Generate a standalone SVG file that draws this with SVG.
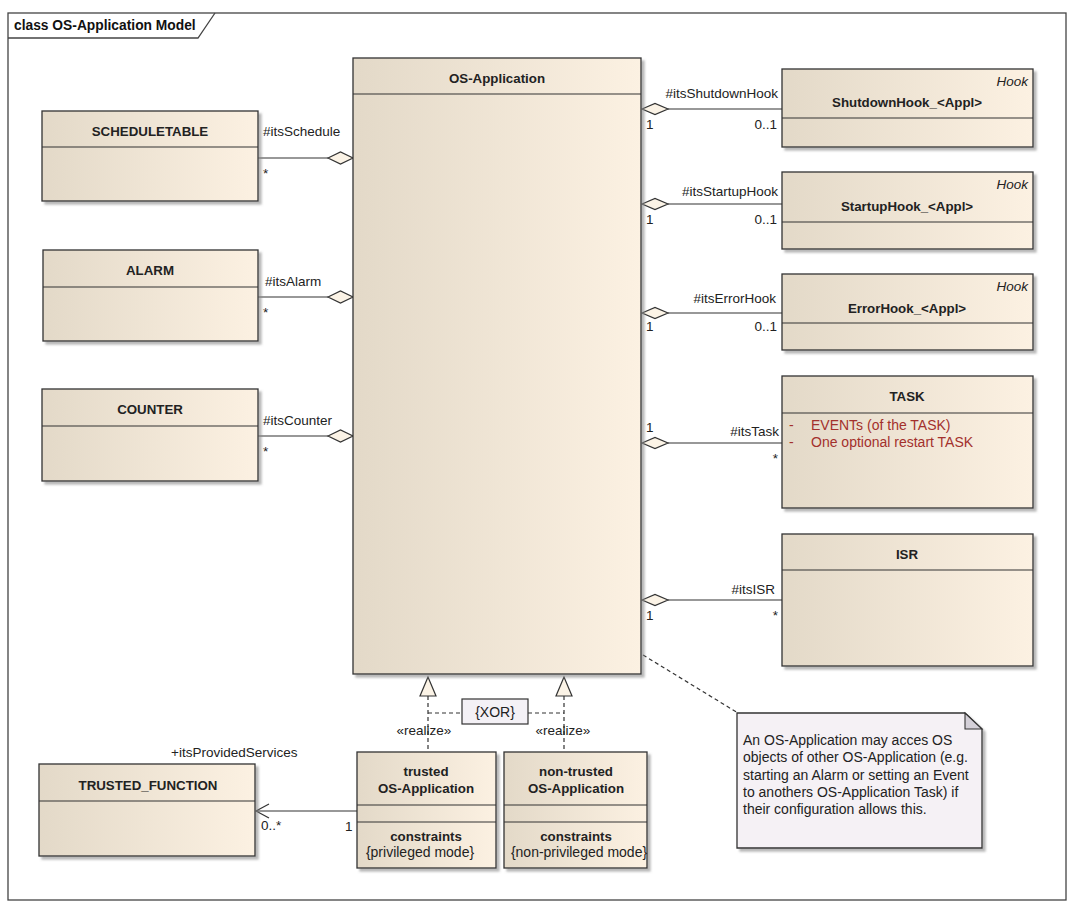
<svg xmlns="http://www.w3.org/2000/svg" width="1080" height="913" viewBox="0 0 1080 913">
<defs>
<linearGradient id="g" x1="0" y1="0" x2="1" y2="0">
<stop offset="0" stop-color="#E3D9C8"/>
<stop offset="1" stop-color="#FCF1E2"/>
</linearGradient>
<filter id="sh" x="-5%" y="-5%" width="115%" height="115%">
<feDropShadow dx="3" dy="3" stdDeviation="1.2" flood-color="#888" flood-opacity="0.6"/>
</filter>
<style>
.box{fill:url(#g);stroke:#333;stroke-width:1.3;filter:url(#sh)}
.dv{stroke:#333;stroke-width:1.2}
.t{font-family:"Liberation Sans",Arial,sans-serif;font-size:13.3px;font-weight:bold;fill:#222;text-anchor:middle}
.r{font-family:"Liberation Sans",Arial,sans-serif;font-size:14px;fill:#222}
.l{font-family:"Liberation Sans",Arial,sans-serif;font-size:13.5px;fill:#222}
.i{font-family:"Liberation Sans",Arial,sans-serif;font-size:13.5px;font-style:italic;fill:#222;text-anchor:end}
.red{fill:#A3302C}
.m{text-anchor:middle}
.e{text-anchor:end}
.ln{stroke:#333;stroke-width:1.2;fill:none}
.dia{fill:#FBF3E6;stroke:#333;stroke-width:1.2}
.dash{stroke:#333;stroke-width:1.2;fill:none;stroke-dasharray:4 3}
</style>
</defs>
<rect width="1080" height="913" fill="#fff"/>
<g id="frame">
<rect x="8" y="13" width="1058" height="887" fill="none" stroke="#444" stroke-width="1.3"/>
<polyline points="8,38 198,38 215,13" fill="none" stroke="#444" stroke-width="1.3"/>
<text x="14" y="30" font-family="Liberation Sans,Arial,sans-serif" font-size="13.8" font-weight="bold" fill="#111">class OS-Application Model</text>
</g>
<g id="connectors">
<!-- left aggregations -->
<line class="ln" x1="258" y1="158" x2="328" y2="158"/>
<polygon class="dia" points="328,158 340.5,152 353,158 340.5,164"/>
<line class="ln" x1="258" y1="297" x2="328" y2="297"/>
<polygon class="dia" points="328,297 340.5,291 353,297 340.5,303"/>
<line class="ln" x1="258" y1="436" x2="328" y2="436"/>
<polygon class="dia" points="328,436 340.5,430 353,436 340.5,442"/>
<!-- right aggregations -->
<line class="ln" x1="668" y1="109" x2="782" y2="109"/>
<polygon class="dia" points="642,109 655,103.5 668,109 655,114.5"/>
<line class="ln" x1="668" y1="204" x2="782" y2="204"/>
<polygon class="dia" points="642,204 655,198.5 668,204 655,209.5"/>
<line class="ln" x1="668" y1="313" x2="782" y2="313"/>
<polygon class="dia" points="642,313 655,307.5 668,313 655,318.5"/>
<line class="ln" x1="668" y1="443" x2="782" y2="443"/>
<polygon class="dia" points="642,443 655,437.5 668,443 655,448.5"/>
<line class="ln" x1="668" y1="600" x2="782" y2="600"/>
<polygon class="dia" points="642,600 655,594.5 668,600 655,605.5"/>
<!-- realizations -->
<line class="dash" x1="428" y1="696" x2="428" y2="752"/>
<polygon class="dia" points="428,677 420,696 436,696"/>
<line class="dash" x1="564" y1="696" x2="564" y2="752"/>
<polygon class="dia" points="564,677 556,696 572,696"/>
<line class="dash" x1="428" y1="713" x2="462" y2="713"/>
<line class="dash" x1="528" y1="713" x2="564" y2="713"/>
<!-- trusted function association -->
<line class="ln" x1="357" y1="811" x2="256" y2="811"/>
<polyline class="ln" points="269,804 256,811 269,818"/>
<!-- note link -->
<line class="dash" x1="643" y1="655" x2="738" y2="713"/>
<!-- labels -->
<text class="l" x="263" y="136">#itsSchedule</text>
<text class="l" x="263" y="178">*</text>
<text class="l" x="356" y="185">1</text>
<text class="l" x="265" y="286">#itsAlarm</text>
<text class="l" x="263" y="317">*</text>
<text class="l" x="356" y="321">1</text>
<text class="l" x="263" y="425">#itsCounter</text>
<text class="l" x="263" y="456">*</text>
<text class="l" x="361" y="458">1</text>
<text class="l e" x="778" y="98">#itsShutdownHook</text>
<text class="l" x="646" y="129">1</text>
<text class="l e" x="777" y="129">0..1</text>
<text class="l e" x="778" y="196">#itsStartupHook</text>
<text class="l" x="646" y="224">1</text>
<text class="l e" x="777" y="224">0..1</text>
<text class="l e" x="776" y="303">#itsErrorHook</text>
<text class="l" x="646" y="331">1</text>
<text class="l e" x="777" y="331">0..1</text>
<text class="l" x="646" y="432">1</text>
<text class="l e" x="779" y="436">#itsTask</text>
<text class="l e" x="778" y="463">*</text>
<text class="l e" x="775" y="594">#itsISR</text>
<text class="l" x="646" y="620">1</text>
<text class="l e" x="778" y="620">*</text>
<text class="l m" x="424" y="735" fill="#444">«realize»</text>
<text class="l m" x="563" y="735" fill="#444">«realize»</text>
<text class="l" x="171" y="757">+itsProvidedServices</text>
<text class="l" x="261" y="830">0..*</text>
<text class="l" x="345" y="831">1</text>
</g>
<g id="xor">
<rect x="462" y="699" width="66" height="25" fill="#F4F1F6" stroke="#333" stroke-width="1.2"/>
<text class="r m" x="495" y="717">{XOR}</text>
</g>
<g id="scheduletable">
<rect class="box" x="42" y="111" width="216" height="90"/>
<line class="dv" x1="42" y1="147" x2="258" y2="147"/>
<text class="t" x="150" y="136">SCHEDULETABLE</text>
</g>
<g id="alarm">
<rect class="box" x="43" y="250" width="215" height="91"/>
<line class="dv" x1="43" y1="287" x2="258" y2="287"/>
<text class="t" x="150" y="275">ALARM</text>
</g>
<g id="counter">
<rect class="box" x="42" y="389" width="216" height="92"/>
<line class="dv" x1="42" y1="426" x2="258" y2="426"/>
<text class="t" x="150" y="414">COUNTER</text>
</g>
<g id="os-application">
<rect class="box" x="353" y="58" width="288" height="616"/>
<line class="dv" x1="353" y1="94" x2="641" y2="94"/>
<text class="t" x="497" y="83">OS-Application</text>
</g>
<g id="shutdownhook">
<rect class="box" x="782" y="69" width="251" height="78"/>
<line class="dv" x1="782" y1="118" x2="1033" y2="118"/>
<text class="i" x="1028" y="86">Hook</text>
<text class="t" x="907" y="107">ShutdownHook_&lt;Appl&gt;</text>
</g>
<g id="startuphook">
<rect class="box" x="782" y="172" width="251" height="77"/>
<line class="dv" x1="782" y1="222" x2="1033" y2="222"/>
<text class="i" x="1028" y="189">Hook</text>
<text class="t" x="907" y="211">StartupHook_&lt;Appl&gt;</text>
</g>
<g id="errorhook">
<rect class="box" x="782" y="274" width="251" height="76"/>
<line class="dv" x1="782" y1="323" x2="1033" y2="323"/>
<text class="i" x="1028" y="291">Hook</text>
<text class="t" x="907" y="313">ErrorHook_&lt;Appl&gt;</text>
</g>
<g id="task">
<rect class="box" x="782" y="376" width="251" height="132"/>
<line class="dv" x1="782" y1="413" x2="1033" y2="413"/>
<text class="t" x="907" y="401">TASK</text>
<text class="r red" x="789" y="430">-</text>
<text class="r red" x="811" y="430">EVENTs (of the TASK)</text>
<text class="r red" x="789" y="447">-</text>
<text class="r red" x="811" y="447">One optional restart TASK</text>
</g>
<g id="isr">
<rect class="box" x="782" y="534" width="251" height="132"/>
<line class="dv" x1="782" y1="570" x2="1033" y2="570"/>
<text class="t" x="907" y="559">ISR</text>
</g>
<g id="trusted-os-application">
<rect class="box" x="357" y="752" width="139" height="116"/>
<line class="dv" x1="357" y1="805" x2="496" y2="805"/>
<line class="dv" x1="357" y1="822" x2="496" y2="822"/>
<text class="t" x="426" y="776">trusted</text>
<text class="t" x="426" y="793">OS-Application</text>
<text class="t" x="426" y="841">constraints</text>
<text class="r m" x="420" y="857">{privileged mode}</text>
</g>
<g id="non-trusted-os-application">
<rect class="box" x="504" y="752" width="143" height="116"/>
<line class="dv" x1="504" y1="805" x2="647" y2="805"/>
<line class="dv" x1="504" y1="822" x2="647" y2="822"/>
<text class="t" x="576" y="776">non-trusted</text>
<text class="t" x="576" y="793">OS-Application</text>
<text class="t" x="576" y="841">constraints</text>
<text class="r m" x="579" y="857">{non-privileged mode}</text>
</g>
<g id="trusted-function">
<rect class="box" x="39" y="764" width="216" height="92"/>
<line class="dv" x1="39" y1="801" x2="255" y2="801"/>
<text class="t" x="148" y="790">TRUSTED_FUNCTION</text>
</g>
<g id="note">
<polygon points="737,713 965,713 982,729 982,848 737,848" fill="#F5F1F5" stroke="#333" stroke-width="1.3" filter="url(#sh)"/>
<polygon points="965,713 965,729 982,729" fill="#D4D0D8" stroke="#333" stroke-width="1.1"/>
<text class="r" x="743" y="745">An OS-Application may acces OS</text>
<text class="r" x="743" y="762">objects of other OS-Application (e.g.</text>
<text class="r" x="743" y="780">starting an Alarm or setting an Event</text>
<text class="r" x="743" y="797">to anothers OS-Application Task) if</text>
<text class="r" x="743" y="814">their configuration allows this.</text>
</g>
</svg>
